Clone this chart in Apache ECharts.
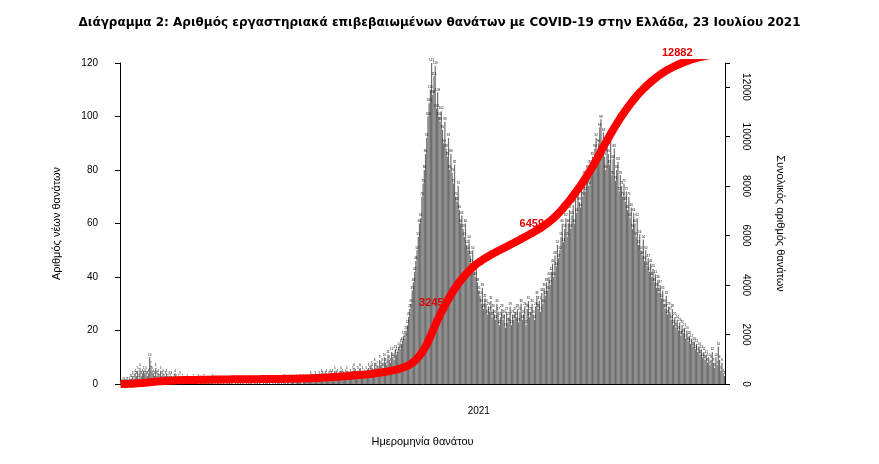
<!DOCTYPE html>
<html><head><meta charset="utf-8">
<script src="https://cdn.jsdelivr.net/npm/echarts@6/dist/echarts.min.js"></script>
<style>html,body{margin:0;background:#fff}#c{width:879px;height:464px}</style></head>
<body><div id="c"></div>
<script>
const startDate = '2020-03-11';
const mar20=[1,0,1,1,0,1,1,1,2,2,3,2,4,3,5,2,6,3,4,5,4];
const apr20=[5,3,4,10,7,5,4,3,6,3,4,2,5,3,4,2,3,4,2,3,2,3,1,2,4,2,1,2,3,1];
const may20=[2,1,1,0,2,1,1,0,1,2,1,0,1,2,0,1,1,0,2,1,0,1,1,0,1,2,0,1,0,1,1];
const jun20=[0,1,0,1,0,0,1,0,1,0,1,0,0,1,0,1,0,1,0,1,0,0,1,0,1,0,1,0,0,1];
const jul20=[0,1,0,1,0,0,1,0,1,1,0,1,0,0,1,0,1,0,1,1,0,1,0,2,1,0,1,1,0,1,1];
const aug20=[1,0,2,1,1,2,1,0,2,1,2,1,2,1,3,2,1,2,3,2,1,3,2,4,3,2,3,4,2,3,4];
const sep20=[3,4,2,5,3,4,2,3,5,4,3,2,4,5,3,2,4,3,5,6,4,3,5,4,6,3,5,4,3,5];
const oct20=[4,6,5,7,6,4,8,6,7,5,9,7,8,6,10,8,7,11,9,8,12,10,9,13,11,12,14,13,15,16,18];
const nov20=[17,20,22,25,28,30,35,38,42,46,50,55,60,62,70,75,80,86,92,100,105,110,121,108,115,119,103,109,100,98];
const dec20=[102,95,90,98,88,85,92,80,86,79,75,82,70,68,74,65,60,63,58,55,60,52,50,54,48,45,50,42,40,44,38];
const jan21=[35,33,30,36,28,32,30,26,29,27,31,25,28,26,24,30,27,22,25,28,24,26,21,27,23,25,29,22,26,24,27];
const feb21=[25,28,23,27,30,24,26,29,22,28,31,25,27,30,26,24,29,33,28,31,27,34,30,36,33,38,35,40];
const mar21=[37,42,45,40,48,44,52,47,50,55,60,53,58,62,55,60,65,58,63,67,60,70,64,72,68,66,75,70,78,72,76];
const apr21=[80,74,82,78,85,80,88,92,84,90,96,99,88,94,85,80,90,86,82,93,78,84,88,76,80,83,72,78,74,70];
const may21=[75,68,72,65,70,62,66,58,64,60,55,62,52,56,50,48,54,46,50,44,47,42,45,40,43,38,41,36,39,34,37];
const jun21=[32,35,30,28,33,26,29,27,24,28,22,25,21,24,20,23,18,22,19,21,17,20,16,18,15,17,14,16,13,15];
const jul21=[12,14,11,13,10,12,9,11,8,10,7,9,12,8,6,10,7,14,9,5,8,4,3];
const annotations=['3245','6459','12882'];
const leftTicks=[0,20,40,60,80,100,120];
const rightTicks=[0,2000,4000,6000,8000,10000,12000];

const daily=[].concat(mar20,apr20,may20,jun20,jul20,aug20,sep20,oct20,nov20,dec20,jan21,feb21,mar21,apr21,may21,jun21,jul21);
const dates=[];
const d0=new Date(startDate+'T00:00:00Z');
for(let i=0;i<daily.length;i++){const d=new Date(d0.getTime()+i*86400000);dates.push(d.toISOString().slice(0,10));}
const cum=[];let s=0;for(const v of daily){s+=v;cum.push(s);}
function idxAt(val){for(let i=0;i<cum.length;i++) if(cum[i]>=val) return i; return cum.length-1;}
const mp=annotations.map(a=>{const i=idxAt(+a);return {coord:[i,cum[i]],value:a};});
const chart=echarts.init(document.getElementById('c'));
chart.setOption({
 animation:false,
 title:{text:'Διάγραμμα 2: Αριθμός εργαστηριακά επιβεβαιωμένων θανάτων με COVID-19 στην Ελλάδα, 23 Ιουλίου 2021',left:'center',top:12,textStyle:{fontSize:12,fontWeight:'bold',fontFamily:'DejaVu Sans',color:'#000'}},
 grid:{left:120,right:154,top:63,bottom:80},
 xAxis:{type:'category',data:dates,boundaryGap:true,
  name:'Ημερομηνία θανάτου',nameLocation:'middle',nameGap:52,nameTextStyle:{fontSize:11,color:'#000'},
  axisLine:{lineStyle:{color:'#000'}},
  axisTick:{interval:(i,v)=>v==='2021-01-01',length:5},
  axisLabel:{interval:(i,v)=>v==='2021-01-01',formatter:v=>v.slice(0,4),fontSize:10,color:'#000',margin:22}},
 yAxis:[{type:'value',min:0,max:120,interval:20,name:'Αριθμός νέων θανάτων',nameLocation:'middle',nameGap:58,nameTextStyle:{fontSize:11,color:'#000'},
   axisLine:{show:true,lineStyle:{color:'#000'}},axisTick:{show:true},splitLine:{show:false},axisLabel:{fontSize:10,color:'#000',margin:22}},
  {type:'value',min:0,max:12970,interval:2000,name:'Συνολικός αριθμός θανάτων',nameLocation:'middle',nameGap:50,nameRotate:-90,nameTextStyle:{fontSize:11,color:'#000'},
   axisLine:{show:true,lineStyle:{color:'#000'}},axisTick:{show:true},splitLine:{show:false},
   axisLabel:{rotate:-90,fontSize:10,color:'#000',margin:16,formatter:v=>rightTicks.includes(v)?v:''}}],
 series:[
  {type:'bar',data:daily,barCategoryGap:'0%',itemStyle:{color:'#6f6f6f'},
   label:{show:true,position:'top',fontSize:3,color:'#000',distance:1}},
  {type:'line',yAxisIndex:1,data:cum,symbol:'none',lineStyle:{color:'#ff0000',width:8},z:5,
   markPoint:{symbol:'circle',symbolSize:1,itemStyle:{color:'#ff0000'},
    label:{show:true,formatter:p=>p.value,color:'#e00000',fontWeight:'bold',fontSize:11,position:'left',distance:2},
    data:mp.map((m,k)=>k===2?Object.assign({},m,{label:{position:'top',distance:6}}):m)}}
 ]
});
</script></body></html>
